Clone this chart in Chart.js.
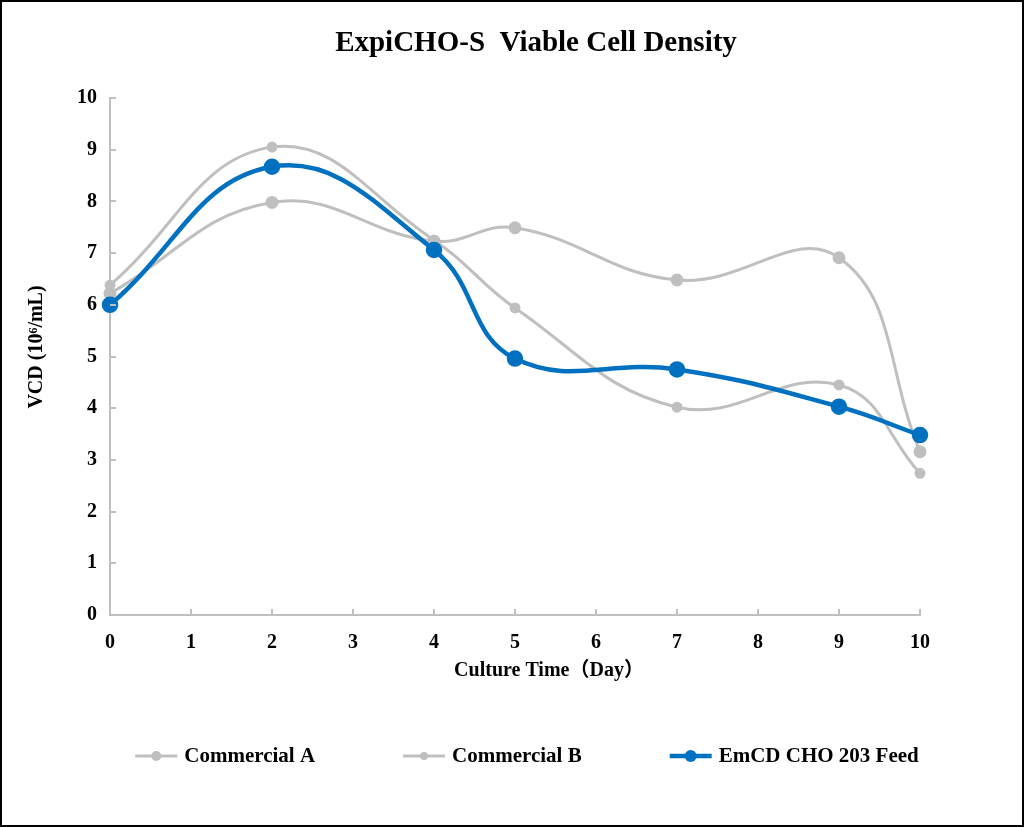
<!DOCTYPE html>
<html>
<head>
<meta charset="utf-8">
<script src="https://cdn.jsdelivr.net/npm/chart.js@4"></script>
<style>
  html, body { margin: 0; padding: 0; background: #fff; }
  #wrap { width: 1024px; height: 827px; position: relative; }
</style>
</head>
<body>
<div id="wrap"><canvas id="c" width="1024" height="827"></canvas></div>
<script>
const chartTitle = 'ExpiCHO-S  Viable Cell Density';
const xTitle = 'Culture Time\uFF08Day\uFF09';
const yTitle = 'VCD (10\u2076/mL)';
const days = [0, 2, 4, 5, 7, 9, 10];
const seriesNames = ['Commercial A', 'Commercial B', 'EmCD CHO 203 Feed'];
const commercialA = [6.22, 7.98, 7.23, 7.49, 6.48, 6.91, 3.16];
const commercialB = [6.38, 9.05, 7.25, 5.94, 4.02, 4.45, 2.74];
const emcdFeed = [6.00, 8.67, 7.06, 4.96, 4.75, 4.03, 3.48];
const xTicks = [0, 1, 2, 3, 4, 5, 6, 7, 8, 9, 10];
const yTicks = [0, 1, 2, 3, 4, 5, 6, 7, 8, 9, 10];

const GRAY = '#BFBFBF';
const BLUE = '#0070C0';
const SERIF = '"Liberation Serif", "Times New Roman", "Noto Sans CJK SC", serif';

function pts(vals) { return days.map((d, i) => ({ x: d, y: vals[i] })); }

const decor = {
  id: 'decor',
  beforeDraw(chart) {
    const ctx = chart.ctx;
    ctx.save();
    ctx.fillStyle = '#fff';
    ctx.fillRect(0, 0, chart.width, chart.height);
    ctx.restore();
  },
  afterDraw(chart) {
    const ctx = chart.ctx;
    const xs = chart.scales.x, ys = chart.scales.y;
    const area = chart.chartArea;
    ctx.save();
    // inward tick marks
    ctx.strokeStyle = GRAY;
    ctx.lineWidth = 2;
    ctx.beginPath();
    yTicks.forEach(v => {
      if (v === 0) return;
      const y = Math.round(ys.getPixelForValue(v));
      ctx.moveTo(area.left, y); ctx.lineTo(area.left + 6, y);
    });
    xTicks.forEach(v => {
      if (v === 0) return;
      const x = Math.round(xs.getPixelForValue(v));
      ctx.moveTo(x, area.bottom); ctx.lineTo(x, area.bottom - 6);
    });
    ctx.stroke();

    // title
    ctx.fillStyle = '#000';
    ctx.textAlign = 'center';
    ctx.textBaseline = 'middle';
    ctx.font = 'bold 29px ' + SERIF;
    ctx.fillText(chartTitle, 536, 44);

    // axis titles
    ctx.font = 'bold 20px ' + SERIF;
    ctx.fillText(xTitle, 549, 671);
    ctx.save();
    ctx.translate(37, 347);
    ctx.rotate(-Math.PI / 2);
    ctx.fillText(yTitle, 0, 0);
    ctx.restore();

    // legend
    ctx.font = 'bold 21px ' + SERIF;
    ctx.textAlign = 'left';
    const gap = 88, boxW = 42, textOff = 49;
    const widths = chart.data.datasets.map(ds => textOff + ctx.measureText(ds.label).width);
    const total = widths.reduce((a, b) => a + b, 0) + gap * (widths.length - 1);
    let x = 527 - total / 2;
    const ly = 756;
    chart.data.datasets.forEach((ds, i) => {
      ctx.strokeStyle = ds.borderColor;
      ctx.lineWidth = ds.borderWidth;
      ctx.beginPath();
      ctx.moveTo(x, ly); ctx.lineTo(x + boxW, ly);
      ctx.stroke();
      ctx.fillStyle = ds.pointBackgroundColor;
      ctx.beginPath();
      ctx.arc(x + boxW / 2, ly, ds.pointRadius, 0, Math.PI * 2);
      ctx.fill();
      ctx.fillStyle = '#000';
      ctx.fillText(ds.label, x + textOff, ly + 1);
      x += widths[i] + gap;
    });

    // outer border
    ctx.strokeStyle = '#000';
    ctx.lineWidth = 2;
    ctx.strokeRect(1, 1, chart.width - 2, chart.height - 2);
    ctx.restore();
  }
};

new Chart(document.getElementById('c'), {
  type: 'line',
  data: {
    datasets: [
      { label: seriesNames[0], data: pts(commercialA), borderColor: GRAY, backgroundColor: GRAY,
        pointBackgroundColor: GRAY, pointBorderColor: GRAY, borderWidth: 3, pointRadius: 5, tension: 0.42, order: 2, clip: false },
      { label: seriesNames[1], data: pts(commercialB), borderColor: GRAY, backgroundColor: GRAY,
        pointBackgroundColor: GRAY, pointBorderColor: GRAY, borderWidth: 3, pointRadius: 4, tension: 0.42, order: 1, clip: false },
      { label: seriesNames[2], data: pts(emcdFeed), borderColor: BLUE, backgroundColor: BLUE,
        pointBackgroundColor: BLUE, pointBorderColor: BLUE, borderWidth: 4.5, pointRadius: 6, tension: 0.42, order: 0, clip: false }
    ]
  },
  options: {
    responsive: false,
    animation: false,
    devicePixelRatio: 1,
    layout: { padding: { left: 0, right: 104, top: 98, bottom: 145 } },
    plugins: { legend: { display: false }, title: { display: false }, tooltip: { enabled: false } },
    scales: {
      x: {
        type: 'linear', min: 0, max: 10,
        afterFit(s) { s.height = 67; },
        afterBuildTicks(s) { s.ticks = xTicks.map(v => ({ value: v })); },
        grid: { drawOnChartArea: false, drawTicks: false },
        border: { color: GRAY, width: 2 },
        ticks: { color: '#000', padding: 16, font: { family: SERIF, size: 20, weight: 'bold' }, maxRotation: 0 }
      },
      y: {
        min: 0, max: 10,
        afterFit(s) { s.width = 110; },
        afterBuildTicks(s) { s.ticks = yTicks.map(v => ({ value: v })); },
        grid: { drawOnChartArea: false, drawTicks: false },
        border: { color: GRAY, width: 2 },
        ticks: { color: '#000', padding: 13, font: { family: SERIF, size: 20, weight: 'bold' } }
      }
    }
  },
  plugins: [decor]
});
</script>
</body>
</html>
